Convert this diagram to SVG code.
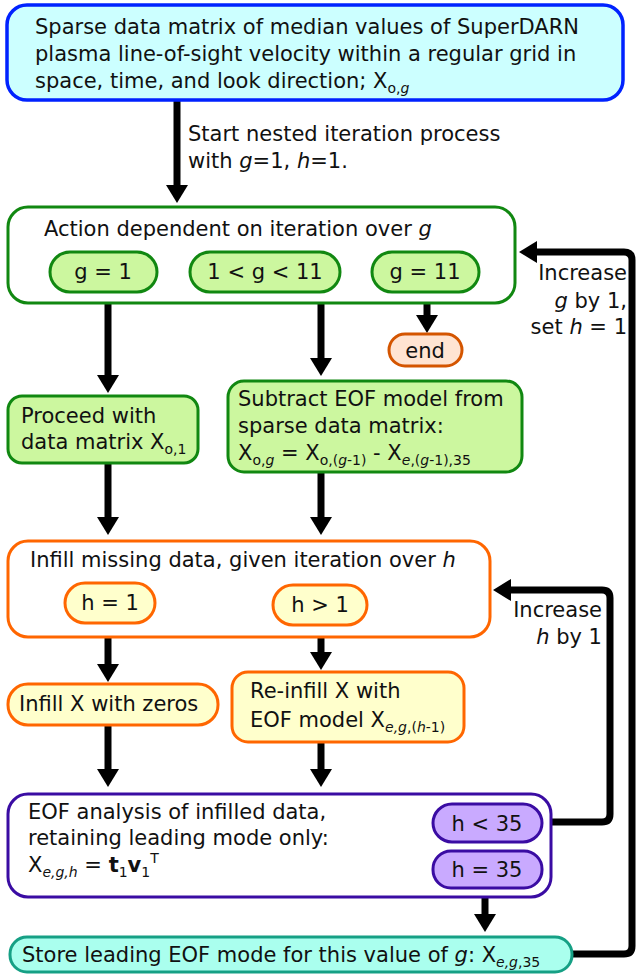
<svg xmlns="http://www.w3.org/2000/svg" width="638" height="974" viewBox="0 0 638 974">
<defs>
<style>
.t{font-family:"DejaVu Sans",Verdana,sans-serif;font-size:21px;fill:#111}
.i{font-style:italic}
.b{font-weight:bold}
.s{font-size:14px}
.m{text-anchor:middle}
.e{text-anchor:end}
.blue{fill:#ccffff;stroke:#0022ff;stroke-width:3.5}
.gbox{fill:#fff;stroke:#118811;stroke-width:3}
.gp{fill:#ccf79f;stroke:#118811;stroke-width:3}
.obox{fill:#fff;stroke:#ff6600;stroke-width:3}
.op{fill:#ffffcc;stroke:#ff6600;stroke-width:3}
.endp{fill:#ffe4d2;stroke:#d45500;stroke-width:3}
.pbox{fill:#fff;stroke:#3a0ca3;stroke-width:3}
.pp{fill:#c9aaff;stroke:#3a0ca3;stroke-width:3}
.tbox{fill:#aaffee;stroke:#16a085;stroke-width:3}
.c{fill:none;stroke:#000;stroke-width:7;marker-end:url(#ah)}
</style>
<marker id="ah" markerUnits="userSpaceOnUse" markerWidth="18" markerHeight="22" viewBox="0 0 18 22" refX="1" refY="11" orient="auto">
<path d="M0,0 L18,11 L0,22 z" fill="#000"/>
</marker>
</defs>

<g id="connectors">
<path class="c" d="M177,100 V186"/>
<path class="c" d="M108,292 V376"/>
<path class="c" d="M321,292 V359"/>
<path class="c" d="M427,292 V316"/>
<path class="c" d="M108,463 V518"/>
<path class="c" d="M321,472 V518"/>
<path class="c" d="M108,623 V665"/>
<path class="c" d="M321,625 V653"/>
<path class="c" d="M108,725 V770"/>
<path class="c" d="M321,742 V770"/>
<path class="c" d="M485,888 V915"/>
<path class="c" d="M572,954 H624 Q632,954 632,946 V260 Q632,252 624,252 H536"/>
<path class="c" d="M543,822 H602 Q610,822 610,814 V598 Q610,590 602,590 H510"/>
<text class="t" x="188" y="141">Start nested iteration process</text>
<text class="t" x="188" y="168">with <tspan class="i">g</tspan>=1, <tspan class="i">h</tspan>=1.</text>
<text class="t e" x="627" y="280">Increase</text>
<text class="t e" x="627" y="308"><tspan class="i">g</tspan> by 1,</text>
<text class="t e" x="627" y="334">set <tspan class="i">h</tspan> = 1</text>
<text class="t e" x="602" y="617">Increase</text>
<text class="t e" x="602" y="644"><tspan class="i">h</tspan> by 1</text>
</g>

<g id="start">
<rect class="blue" x="7" y="5" width="616" height="95" rx="20"/>
<text class="t" x="35" y="34">Sparse data matrix of median values of SuperDARN</text>
<text class="t" x="35" y="61">plasma line-of-sight velocity within a regular grid in</text>
<text class="t" x="35" y="88">space, time, and look direction; X<tspan class="s" dy="5">o,</tspan><tspan class="s i">g</tspan></text>
</g>

<g id="g-action">
<rect class="gbox" x="8" y="207" width="507" height="96" rx="20"/>
<text class="t" x="44" y="236">Action dependent on iteration over <tspan class="i">g</tspan></text>
</g>
<g id="g-eq-1">
<rect class="gp" x="50" y="252" width="107" height="40" rx="20"/>
<text class="t m" x="103" y="279">g = 1</text>
</g>
<g id="g-mid">
<rect class="gp" x="190" y="252" width="150" height="40" rx="20"/>
<text class="t m" x="265" y="279">1 &lt; g &lt; 11</text>
</g>
<g id="g-eq-11">
<rect class="gp" x="372" y="252" width="107" height="40" rx="20"/>
<text class="t m" x="425" y="279">g = 11</text>
</g>
<g id="end">
<rect class="endp" x="389" y="334" width="73" height="32" rx="16"/>
<text class="t m" x="425" y="358">end</text>
</g>
<g id="proceed">
<rect class="gp" x="8" y="396" width="190" height="67" rx="14"/>
<text class="t" x="21" y="423">Proceed with</text>
<text class="t" x="21" y="449">data matrix X<tspan class="s" dy="5">o,1</tspan></text>
</g>
<g id="subtract">
<rect class="gp" x="228" y="381" width="294" height="91" rx="16"/>
<text class="t" x="238" y="406">Subtract EOF model from</text>
<text class="t" x="238" y="433">sparse data matrix:</text>
<text class="t" x="238" y="460">X<tspan class="s" dy="5">o,</tspan><tspan class="s i">g</tspan><tspan dy="-5"> = X</tspan><tspan class="s" dy="5">o,(</tspan><tspan class="s i">g</tspan><tspan class="s">-1)</tspan><tspan dy="-5"> - X</tspan><tspan class="s i" dy="5">e</tspan><tspan class="s">,(</tspan><tspan class="s i">g</tspan><tspan class="s">-1),35</tspan></text>
</g>

<g id="h-action">
<rect class="obox" x="8" y="541" width="482" height="96" rx="20"/>
<text class="t" x="30" y="567">Infill missing data, given iteration over <tspan class="i">h</tspan></text>
</g>
<g id="h-eq-1">
<rect class="op" x="65" y="583" width="90" height="40" rx="20"/>
<text class="t m" x="110" y="610">h = 1</text>
</g>
<g id="h-gt-1">
<rect class="op" x="273" y="585" width="94" height="40" rx="20"/>
<text class="t m" x="320" y="612">h &gt; 1</text>
</g>
<g id="infill-zeros">
<rect class="op" x="8" y="684" width="210" height="41" rx="20"/>
<text class="t" x="19" y="711">Infill X with zeros</text>
</g>
<g id="reinfill">
<rect class="op" x="232" y="672" width="232" height="70" rx="16"/>
<text class="t" x="250" y="698">Re-infill X with</text>
<text class="t" x="250" y="727">EOF model X<tspan class="s i" dy="5">e,g</tspan><tspan class="s">,(</tspan><tspan class="s i">h</tspan><tspan class="s">-1)</tspan></text>
</g>

<g id="eof">
<rect class="pbox" x="8" y="794" width="543" height="103" rx="20"/>
<text class="t" x="28" y="819">EOF analysis of infilled data,</text>
<text class="t" x="28" y="845">retaining leading mode only:</text>
<text class="t" x="28" y="872">X<tspan class="s i" dy="5">e,g,h</tspan><tspan dy="-5"> = </tspan><tspan class="b">t</tspan><tspan class="s" dy="5">1</tspan><tspan class="b" dy="-5">v</tspan><tspan class="s" dy="5">1</tspan><tspan class="s" dy="-14">T</tspan></text>
</g>
<g id="h-lt-35">
<rect class="pp" x="433" y="804" width="109" height="38" rx="19"/>
<text class="t m" x="487" y="831">h &lt; 35</text>
</g>
<g id="h-eq-35">
<rect class="pp" x="433" y="851" width="109" height="37" rx="18"/>
<text class="t m" x="487" y="877">h = 35</text>
</g>

<g id="store">
<rect class="tbox" x="10" y="937" width="562" height="35" rx="17"/>
<text class="t" x="22" y="962">Store leading EOF mode for this value of <tspan class="i">g</tspan>: X<tspan class="s i" dy="5">e,g</tspan><tspan class="s">,35</tspan></text>
</g>
</svg>
